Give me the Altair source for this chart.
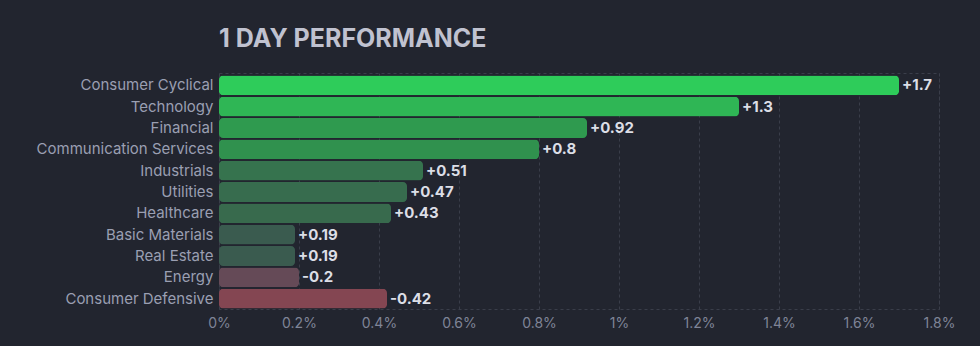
import altair as alt
import pandas as pd

sectors = ["Consumer Cyclical", "Technology", "Financial", "Communication Services",
           "Industrials", "Utilities", "Healthcare", "Basic Materials", "Real Estate",
           "Energy", "Consumer Defensive"]
changes = [1.7, 1.3, 0.92, 0.8, 0.51, 0.47, 0.43, 0.19, 0.19, -0.2, -0.42]
colors = ["#2ecc5a", "#2fb655", "#2f9a4f", "#30914e", "#36734e", "#376c4e",
          "#386a4d", "#3a5b4f", "#3a5b4f", "#654a57", "#844652"]
x_ticks = [0, 0.2, 0.4, 0.6, 0.8, 1.0, 1.2, 1.4, 1.6, 1.8]

df = pd.DataFrame({"sector": sectors, "change": changes, "color": colors})
df["size"] = df["change"].abs()
df["label"] = [("+" if v > 0 else "") + f"{v:g}" for v in changes]

FONT = "Inter"

y = alt.Y("sector:N", sort=sectors, title=None,
          scale=alt.Scale(paddingInner=0.07, paddingOuter=0.066, align=0.85),
          axis=alt.Axis(labelColor="#9a9fb2", labelFontSize=15, labelFont=FONT,
                        labelPadding=6, ticks=False, domain=False, grid=False))
x = alt.X("size:Q", title=None,
          scale=alt.Scale(domain=[0, 1.8], nice=False),
          axis=alt.Axis(values=x_ticks, labelExpr="format(datum.value, '.1~f') + '%'",
                        labelColor="#7f8497", labelFontSize=14, labelFont=FONT,
                        labelPadding=7, ticks=False, domain=False,
                        grid=True, gridColor="#3a3e4a", gridDash=[3, 3], gridWidth=1,
                        labelFlush=False))

bars = alt.Chart(df).mark_bar(cornerRadius=4).encode(
    x=x, y=y, color=alt.Color("color:N", scale=None)
)
text = alt.Chart(df).mark_text(align="left", dx=3, fontSize=15, fontWeight="bold",
                               font=FONT, color="#dcdee6").encode(
    x=alt.X("size:Q"), y=alt.Y("sector:N", sort=sectors), text="label:N"
)

chart = (bars + text).properties(
    width=720, height=236,
    autosize=alt.AutoSizeParams(type="none"),
    padding={"left": 219, "top": 73, "right": 41, "bottom": 37},
    background="#22252f",
    title=alt.TitleParams("1 DAY PERFORMANCE", anchor="start", frame="group",
                          fontSize=25, fontWeight="bold", font=FONT,
                          color="#c0c2d0", offset=21),
).configure_view(stroke="#3a3e4a", strokeDash=[3, 3], strokeWidth=1)

chart.save("out.html", embed_options={"renderer": "svg", "actions": False})
